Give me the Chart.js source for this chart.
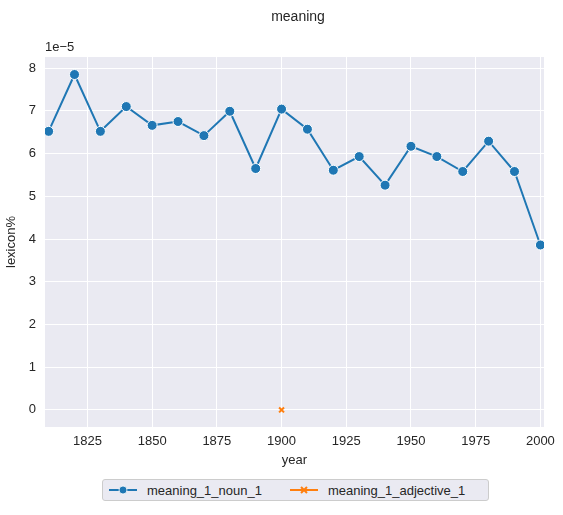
<!DOCTYPE html>
<html>
<head>
<meta charset="utf-8">
<script src="https://cdn.jsdelivr.net/npm/chart.js@4"></script>
<style>
  body { margin: 0; background: #fff; font-family: Arial, 'Liberation Sans', sans-serif; }
  #wrap { position: relative; width: 563px; height: 515px; }
  #legend {
    position: absolute; left: 102px; top: 479px; width: 387px; height: 22px;
    border: 1px solid #ccc; border-radius: 3px; background: #eaeaf2;
    display: flex; align-items: center; font-size: 13px; color: #262626; box-sizing: border-box;
  }
  .item { display: flex; align-items: center; margin-left: 6px; }
  .item svg { margin-right: 10px; }
</style>
</head>
<body>
<div id="wrap">
  <canvas id="c" width="563" height="515"></canvas>
  <div id="legend">
    <div class="item">
      <svg width="28" height="10"><line x1="0" y1="5" x2="28" y2="5" stroke="#1f77b4" stroke-width="2"/><circle cx="14" cy="5" r="4" fill="#1f77b4" stroke="#fff" stroke-width="0.8"/></svg>
      meaning_1_noun_1
    </div>
    <div class="item" style="margin-left:28px">
      <svg width="28" height="10"><line x1="0" y1="5" x2="28" y2="5" stroke="#ff7f0e" stroke-width="2"/><path d="M11 2 L17 8 M17 2 L11 8" stroke="#ff7f0e" stroke-width="2"/></svg>
      meaning_1_adjective_1
    </div>
  </div>
</div>
<script>
const years = [1810, 1820, 1830, 1840, 1850, 1860, 1870, 1880, 1890, 1900,
               1910, 1920, 1930, 1940, 1950, 1960, 1970, 1980, 1990, 2000];
const nounValues = [6.52, 7.85, 6.52, 7.10, 6.66, 6.75, 6.42, 6.99, 5.65, 7.04,
                    6.57, 5.61, 5.93, 5.26, 6.17, 5.93, 5.58, 6.29, 5.58, 3.86].map(v => v * 1e-5);
const adjYears = [1900];
const adjValues = [0];
const xTicks = [1825, 1850, 1875, 1900, 1925, 1950, 1975, 2000];
const yTicks = [0, 1, 2, 3, 4, 5, 6, 7, 8];

const FONT = "Arial, 'Liberation Sans', sans-serif";
const TEXT = '#262626';

// seaborn-style background and extra texts
const decor = {
  id: 'decor',
  beforeDraw(chart) {
    const { ctx, chartArea: a } = chart;
    ctx.save();
    ctx.fillStyle = '#eaeaf2';
    ctx.fillRect(a.left, a.top, a.right - a.left, a.bottom - a.top);
    ctx.restore();
  },
  afterDraw(chart) {
    const { ctx, chartArea: a } = chart;
    ctx.save();
    ctx.fillStyle = TEXT;
    ctx.font = '14px ' + FONT;
    ctx.textAlign = 'center';
    ctx.textBaseline = 'middle';
    ctx.fillText('meaning', 298, 17);
    ctx.font = '13px ' + FONT;
    ctx.textAlign = 'left';
    ctx.fillText('1e\u22125', a.left, 47);
    ctx.restore();
  }
};

new Chart(document.getElementById('c'), {
  type: 'line',
  data: {
    datasets: [{
      data: years.map((y, i) => ({ x: y, y: nounValues[i] })),
      borderColor: '#1f77b4',
      backgroundColor: '#1f77b4',
      pointBorderColor: '#fff',
      pointBorderWidth: 1,
      pointRadius: 5,
      borderWidth: 2,
      tension: 0,
    }, {
      data: adjYears.map((y, i) => ({ x: y, y: adjValues[i] })),
      borderColor: '#ff7f0e',
      backgroundColor: '#ff7f0e',
      pointStyle: 'crossRot',
      pointRadius: 3.5,
      pointBorderWidth: 2,
      showLine: false,
    }]
  },
  options: {
    responsive: false,
    animation: false,
    layout: { padding: { left: 0, right: 19, top: 57, bottom: 43 } },
    plugins: { legend: { display: false }, tooltip: { enabled: false } },
    scales: {
      x: {
        type: 'linear',
        min: 1808.6,
        max: 2001.4,
        afterBuildTicks: s => { s.ticks = xTicks.map(v => ({ value: v })); },
        afterFit: s => { s.height = 45; },
        grid: { color: '#fff', lineWidth: 1, drawTicks: false },
        border: { display: false },
        ticks: { color: TEXT, font: { size: 13, family: FONT }, padding: 7, maxRotation: 0, callback: v => String(v) },
        title: { display: true, text: 'year', color: TEXT, font: { size: 13, family: FONT }, padding: { top: 3 } },
      },
      y: {
        min: -0.40e-5,
        max: 8.26e-5,
        afterBuildTicks: s => { s.ticks = yTicks.map(v => ({ value: v * 1e-5 })); },
        afterFit: s => { s.width = 45; },
        grid: { color: '#fff', lineWidth: 1, drawTicks: false },
        border: { display: false },
        ticks: { color: TEXT, font: { size: 13, family: FONT }, padding: 9, callback: v => String(Math.round(v / 1e-5)) },
        title: { display: true, text: 'lexicon%', color: TEXT, font: { size: 13, family: FONT }, padding: { bottom: 0 } },
      }
    }
  },
  plugins: [decor]
});
</script>
</body>
</html>
